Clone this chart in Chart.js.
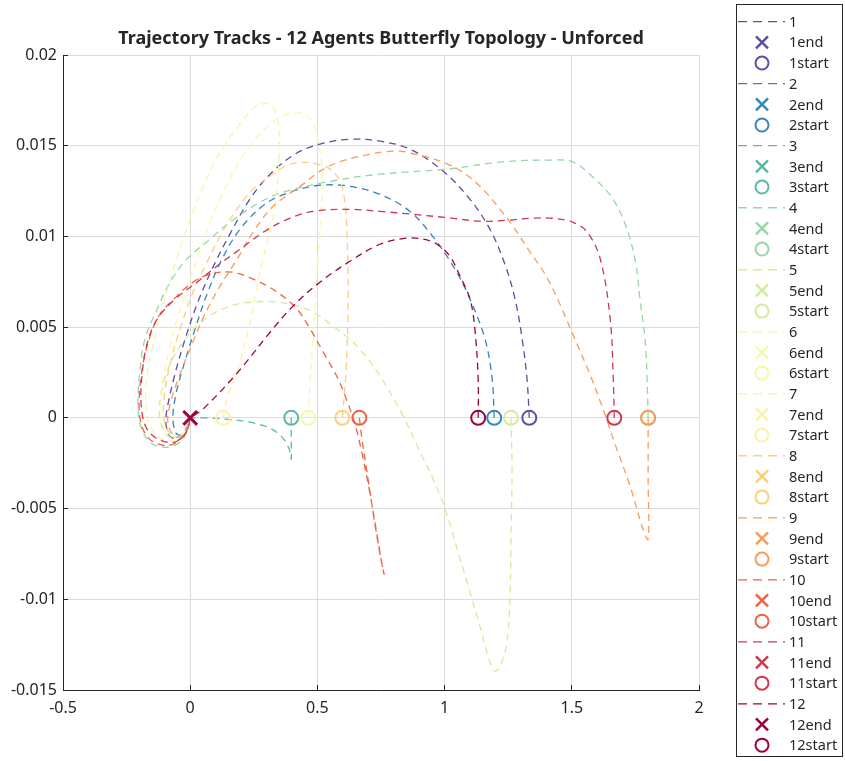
<!DOCTYPE html>
<html lang="en">
<head>
<meta charset="UTF-8">
<title>Trajectory Tracks</title>
<script src="https://cdn.jsdelivr.net/npm/chart.js"></script>
<style>
  html, body { margin: 0; padding: 0; background: #fff; }
  #wrap { width: 845px; height: 761px; }
</style>
</head>
<body>
<div id="wrap"><canvas id="tracks" width="845" height="761"></canvas></div>
<script>
// agent tracks, [x, y] from start position to the meeting point
const track1 = [[1.333,0],[1.324,0.00213],[1.305,0.00434],[1.277,0.00654],[1.237,0.00847],[1.178,0.0104],[1.099,0.01206],[0.994,0.0136],[0.864,0.01481],[0.746,0.01525],[0.628,0.01536],[0.510,0.01509],[0.412,0.01454],[0.314,0.01343],[0.235,0.01206],[0.156,0.01013],[0.086,0.0082],[0.027,0.00627],[-0.020,0.00434],[-0.060,0.00241],[-0.091,0.00048],[-0.095,-0.00035],[-0.079,-0.00101],[-0.040,-0.00117],[0,0]];
const track2 = [[1.195,0],[1.187,0.00213],[1.159,0.00434],[1.100,0.00654],[1.041,0.00819],[0.962,0.00984],[0.864,0.01138],[0.746,0.01232],[0.628,0.01276],[0.510,0.01282],[0.392,0.01244],[0.294,0.01178],[0.196,0.0104],[0.125,0.00875],[0.066,0.00682],[0.019,0.00489],[-0.024,0.00296],[-0.056,0.00131],[-0.068,-0.00007],[-0.052,-0.0009],[-0.017,-0.00079],[0,0]];
const track3 = [[0.397,0],[0.397,-0.00116],[0.397,-0.00227],[0.389,-0.00172],[0.361,-0.00106],[0.314,-0.00057],[0.235,-0.00024],[0.137,-0.00007],[0.058,0],[0,0]];
const track4 = [[1.800,0],[1.796,0.00213],[1.788,0.00434],[1.768,0.00654],[1.752,0.00847],[1.717,0.0104],[1.662,0.01206],[1.591,0.01316],[1.505,0.0141],[1.414,0.01421],[1.218,0.0141],[1.010,0.01371],[0.746,0.01343],[0.550,0.01304],[0.366,0.01244],[0.275,0.01189],[0.156,0.01078],[0.078,0.00985],[-0.013,0.00875],[-0.079,0.00748],[-0.130,0.00599],[-0.178,0.00434],[-0.197,0.00268],[-0.205,0.00103],[-0.197,-0.00035],[-0.158,-0.00134],[-0.091,-0.00162],[-0.028,-0.00117],[0,0]];
const track5 = [[1.261,0],[1.265,-0.00283],[1.261,-0.0067],[1.257,-0.00983],[1.245,-0.01237],[1.218,-0.01369],[1.198,-0.01396],[1.178,-0.01347],[1.139,-0.01149],[1.100,-0.00961],[1.061,-0.00779],[1.002,-0.00503],[0.955,-0.00338],[0.904,-0.00189],[0.837,0.0001],[0.746,0.0023],[0.656,0.00395],[0.562,0.00505],[0.460,0.00599],[0.342,0.00638],[0.248,0.00638],[0.156,0.00616],[0.058,0.00544],[-0.020,0.00434],[-0.079,0.00296],[-0.115,0.00131],[-0.119,-0.00007],[-0.087,-0.00101],[-0.040,-0.00101],[0,0]];
const track6 = [[0.464,0],[0.472,0.00213],[0.484,0.00489],[0.499,0.00819],[0.515,0.01149],[0.519,0.01353],[0.499,0.01552],[0.472,0.01646],[0.421,0.01685],[0.362,0.01663],[0.283,0.0158],[0.204,0.01436],[0.125,0.01232],[0.058,0.01001],[0,0.00765],[-0.052,0.00544],[-0.091,0.00323],[-0.115,0.00131],[-0.111,-0.00024],[-0.072,-0.00101],[-0.020,-0.00079],[0,0]];
const track7 = [[0.129,0],[0.149,0.00131],[0.184,0.00252],[0.235,0.00527],[0.274,0.00803],[0.306,0.00985],[0.333,0.01166],[0.349,0.01442],[0.345,0.0163],[0.314,0.01729],[0.255,0.01713],[0.196,0.01619],[0.125,0.01481],[0.058,0.01299],[0,0.01095],[-0.060,0.00847],[-0.111,0.00599],[-0.150,0.00379],[-0.174,0.00186],[-0.170,0.0002],[-0.138,-0.0009],[-0.072,-0.00128],[-0.017,-0.00073],[0,0]];
const track8 = [[0.598,0],[0.613,0.00268],[0.621,0.00654],[0.617,0.00985],[0.609,0.01178],[0.589,0.01304],[0.550,0.01371],[0.499,0.01398],[0.432,0.01409],[0.373,0.01387],[0.314,0.01332],[0.247,0.01261],[0.184,0.01151],[0.117,0.01001],[0.066,0.00858],[0.011,0.00693],[-0.040,0.00489],[-0.079,0.00296],[-0.103,0.00103],[-0.099,-0.00035],[-0.060,-0.00106],[-0.017,-0.00079],[0,0]];
const track9 = [[1.800,0],[1.800,-0.00338],[1.800,-0.00669],[1.780,-0.00614],[1.729,-0.00376],[1.670,-0.00145],[1.630,0.0002],[1.571,0.00241],[1.512,0.00434],[1.453,0.00627],[1.395,0.00792],[1.336,0.00913],[1.269,0.01056],[1.218,0.01149],[1.151,0.0126],[1.072,0.01354],[0.994,0.01409],[0.915,0.01442],[0.813,0.0147],[0.668,0.01442],[0.538,0.01382],[0.432,0.01276],[0.326,0.01166],[0.247,0.01023],[0.184,0.00874],[0.117,0.00726],[0.058,0.00572],[0.007,0.00406],[-0.040,0.00241],[-0.079,0.00076],[-0.087,-0.00035],[-0.056,-0.00106],[-0.017,-0.00079],[0,0]];
const track10 = [[0.665,0],[0.675,-0.00116],[0.699,-0.00337],[0.726,-0.00585],[0.746,-0.00751],[0.762,-0.00862],[0.754,-0.00807],[0.734,-0.00641],[0.707,-0.0042],[0.676,-0.002],[0.648,-0.00035],[0.621,0.00076],[0.582,0.00213],[0.523,0.00362],[0.472,0.00489],[0.420,0.00599],[0.342,0.00693],[0.247,0.00765],[0.165,0.00803],[0.078,0.00792],[0.011,0.00748],[-0.052,0.00671],[-0.119,0.00571],[-0.158,0.0045],[-0.189,0.00268],[-0.201,0.00076],[-0.189,-0.0005],[-0.150,-0.00128],[-0.079,-0.00151],[-0.020,-0.0009],[0,0]];
const track11 = [[1.667,0],[1.663,0.00213],[1.651,0.00544],[1.612,0.00875],[1.561,0.01023],[1.505,0.01078],[1.426,0.011],[1.336,0.011],[1.245,0.01089],[1.139,0.01084],[1.033,0.011],[0.876,0.01122],[0.746,0.01138],[0.628,0.01149],[0.483,0.01138],[0.381,0.01094],[0.287,0.01023],[0.196,0.0093],[0.105,0.00836],[0.027,0.00748],[-0.060,0.00654],[-0.130,0.00544],[-0.170,0.00406],[-0.189,0.00241],[-0.193,0.00076],[-0.174,-0.0005],[-0.127,-0.00117],[-0.060,-0.00134],[-0.013,-0.00073],[0,0]];
const track12 = [[1.132,0],[1.132,0.00213],[1.119,0.00489],[1.100,0.00654],[1.061,0.0078],[1.021,0.0089],[0.970,0.00957],[0.915,0.00985],[0.852,0.00991],[0.746,0.00957],[0.628,0.00863],[0.510,0.00748],[0.404,0.00616],[0.314,0.00472],[0.184,0.00246],[0.050,0.00048],[0,0]];

const tracks = [track1, track2, track3, track4, track5, track6, track7, track8, track9, track10, track11, track12];
const agentNames = ['1','2','3','4','5','6','7','8','9','10','11','12'];
const agentColors = ['#5e4fa2','#3686bc','#5db8a9','#98d6a4','#d1ec9c','#f4faad',
                     '#fef1a7','#fece7c','#fa9c59','#ee6445','#d0384e','#9e0142'];
const xTicks = [-0.5, 0, 0.5, 1, 1.5, 2];
const yTicks = [-0.015, -0.01, -0.005, 0, 0.005, 0.01, 0.015, 0.02];

const FONT = '"Noto Sans", "Open Sans", sans-serif';
const INK = '#262626';

// one dashed track, one end cross and one start circle per agent
const datasets = [];
tracks.forEach((t, i) => {
  const pts = t.map(p => ({ x: p[0], y: p[1] }));
  const col = agentColors[i];
  datasets.push({
    label: agentNames[i], kind: 'track', data: pts, showLine: true,
    borderColor: col, borderWidth: 1.3, borderDash: [7, 5], tension: 0.35,
    pointRadius: 0, pointHoverRadius: 0
  });
  datasets.push({
    label: agentNames[i] + 'end', kind: 'end', data: [pts[pts.length - 1]],
    pointStyle: 'crossRot', pointRadius: 9.5, pointBorderWidth: 2.5,
    borderColor: col, backgroundColor: 'rgba(0,0,0,0)'
  });
  datasets.push({
    label: agentNames[i] + 'start', kind: 'start', data: [pts[0]],
    pointStyle: 'circle', pointRadius: 7, pointBorderWidth: 2,
    borderColor: col, backgroundColor: 'rgba(0,0,0,0)'
  });
});
// later datasets go on top
datasets.forEach((d, i) => { d.order = -i; });

// boxed legend on the right, one row per dataset
const boxLegend = {
  id: 'boxLegend',
  afterDraw(chart) {
    const ctx = chart.ctx;
    const top = 21.7, step = 20.67;
    ctx.save();
    ctx.strokeStyle = INK;
    ctx.lineWidth = 1;
    ctx.strokeRect(736.5, 4.5, 106, 752);
    ctx.font = '14.5px ' + FONT;
    ctx.textBaseline = 'middle';
    chart.data.datasets.forEach((d, i) => {
      const y = top + i * step;
      ctx.strokeStyle = d.borderColor;
      if (d.kind === 'track') {
        ctx.lineWidth = 1.3;
        ctx.setLineDash([9, 6]);
        ctx.beginPath();
        ctx.moveTo(738, y);
        ctx.lineTo(785, y);
        ctx.stroke();
        ctx.setLineDash([]);
      } else if (d.kind === 'end') {
        ctx.lineWidth = 2.5;
        ctx.beginPath();
        ctx.moveTo(756, y - 6); ctx.lineTo(768, y + 6);
        ctx.moveTo(768, y - 6); ctx.lineTo(756, y + 6);
        ctx.stroke();
      } else {
        ctx.lineWidth = 2;
        ctx.beginPath();
        ctx.arc(762, y, 6.5, 0, Math.PI * 2);
        ctx.stroke();
      }
      ctx.fillStyle = INK;
      ctx.fillText(d.label, 789, y + 1);
    });
    ctx.restore();
  }
};

const fmt = v => String(+v.toFixed(4));

new Chart(document.getElementById('tracks'), {
  type: 'scatter',
  data: { datasets },
  options: {
    responsive: false,
    animation: false,
    layout: { padding: { left: 0, right: 146, top: 20, bottom: 31 } },
    plugins: {
      legend: { display: false },
      tooltip: { enabled: false },
      title: {
        display: true, fullSize: false,
        text: 'Trajectory Tracks - 12 Agents Butterfly Topology - Unforced',
        color: INK, font: { family: FONT, size: 18, weight: 'bold' },
        padding: { top: 8.2, bottom: 5.2 }
      }
    },
    scales: {
      x: {
        type: 'linear', min: -0.5, max: 2,
        afterBuildTicks: s => { s.ticks = xTicks.map(v => ({ value: v })); },
        afterFit: s => { s.height = 40; },
        ticks: { callback: fmt, color: INK, font: { family: FONT, size: 16 }, padding: 13.4, maxRotation: 0 },
        grid: { color: '#dcdcdc', tickColor: INK, tickLength: -5 },
        border: { display: true, color: INK }
      },
      y: {
        type: 'linear', min: -0.015, max: 0.02,
        afterBuildTicks: s => { s.ticks = yTicks.map(v => ({ value: v })); },
        afterFit: s => { s.width = 63; },
        ticks: { callback: fmt, color: INK, font: { family: FONT, size: 16 }, padding: 11 },
        grid: { color: '#dcdcdc', tickColor: INK, tickLength: -5 },
        border: { display: true, color: INK }
      }
    }
  },
  plugins: [boxLegend]
});
</script>
</body>
</html>
